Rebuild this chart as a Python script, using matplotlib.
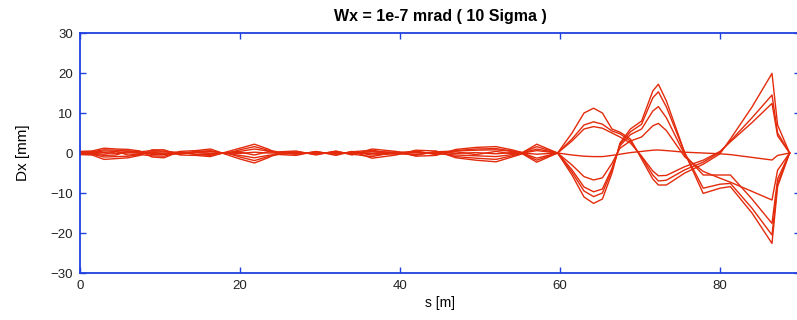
import matplotlib
matplotlib.use("Agg")
import matplotlib.pyplot as plt

# ---- data -------------------------------------------------------------
title = "Wx = 1e-7 mrad ( 10 Sigma )"
x_label = "s [m]"
y_label = "Dx [mm]"
x_ticks = [0, 20, 40, 60, 80]
y_ticks = [-30, -20, -10, 0, 10, 20, 30]

s_knots = [0, 1.5, 3, 4.5, 6, 7.5, 9, 10.5, 12.5, 14.5, 16.3, 18.2, 20, 21.8, 23.5,
           25, 27, 29.5, 32, 34, 36.5, 39.5, 42, 44.5, 47, 49.5, 52, 54, 55.3, 57.1,
           59.7, 61.5, 63, 64.2, 65.3, 66.5, 67.5, 68.8, 70.2, 71.6, 72.3, 73.3, 75.6,
           77.9, 80, 81.3, 84, 86.5, 87.2, 88.7]

dx_a1 = [0.4, 0.5, 1.2, 1.0, 0.9, 0.5, -1.0, -1.2, 0.4, 0.6, 1.0, -0.3, -1.5, -2.5, -1.2,
         0.3, 0.5, -0.5, 0.5, -0.5, 1.0, 0.4, -0.8, -0.6, 0.9, 1.4, 1.6, 0.8, 0.1, 2.2,
         0, 5.0, 10.0, 11.2, 10.0, 6.0, 5.2, 3.5, -1.5, -6.5, -8.0, -8.0, -5.0,
         -2.8, -0.2, 3.5, 11.5, 19.9, 7.0, 0]
dx_a2 = [0.3, 0.3, 0.8, 0.7, 0.5, 0.3, 0.6, 0.5, -0.3, 0.3, 0.6, -0.2, 0.8, 1.6, 0.7,
         0.2, -0.3, 0.3, -0.3, 0.3, 0.7, -0.3, 0.5, -0.4, 0.6, 1.0, 1.1, 0.5, 0.1, 1.6,
         0, 3.5, 7.0, 7.8, 7.2, 5.5, 4.8, 3.0, -1.0, -5.5, -7.0, -6.8, -4.2,
         -2.3, 0.2, 3.0, 8.8, 14.5, 5.0, 0]
dx_a3 = [0.2, 0.2, 0.5, 0.4, -0.5, -0.3, 0.3, 0.3, 0.2, -0.3, -0.4, 0.1, 0.4, 1.0, 0.5,
         0.1, 0.2, -0.2, 0.2, -0.2, 0.4, 0.2, 0.3, -0.2, -0.5, -0.7, -0.9, -0.4, 0.0, -1.3,
         0, 3.0, 6.0, 6.6, 6.2, 5.0, 4.0, 2.5, -0.8, -4.5, -5.7, -5.6, -3.4,
         -1.8, 0.4, 2.8, 7.6, 12.4, 4.3, 0]
dx_b1 = [-0.4, -0.5, -1.6, -1.4, -1.2, -0.6, 0.8, 0.8, -0.5, -0.6, -0.9, 0.2, 1.2, 2.2, 1.0,
         -0.4, -0.6, 0.4, -0.6, 0.4, -1.3, -0.5, 0.7, 0.5, -1.2, -1.8, -2.2, -1.0, -0.2, -2.3,
         0, -5.5, -11.0, -12.6, -11.5, -5.0, 2.5, 6.0, 8.0, 15.5, 17.2, 13.0, 0.0,
         -10.1, -8.8, -8.4, -15.0, -22.6, -8.4, 0]
dx_b2 = [-0.3, -0.3, -1.0, -0.9, -0.8, -0.4, -0.7, -0.8, 0.3, -0.4, -0.6, 0.1, -1.0, -1.9, -0.9,
         -0.3, 0.3, -0.3, 0.4, -0.3, -0.9, 0.3, -0.6, 0.4, -0.9, -1.3, -1.6, -0.7, -0.1, -1.8,
         0, -4.8, -9.5, -10.9, -10.0, -4.3, 2.2, 5.3, 7.2, 13.8, 15.3, 11.5, 0.0,
         -8.8, -7.8, -7.6, -13.8, -20.5, -7.6, 0]
dx_b3 = [-0.2, -0.2, -0.6, -0.5, 0.5, 0.2, -0.4, -0.4, -0.2, 0.4, 0.4, -0.1, -0.6, -1.2, -0.6,
         -0.2, -0.2, 0.2, -0.2, 0.2, -0.5, -0.2, -0.4, 0.3, 0.5, 0.7, 0.8, 0.4, 0.0, 1.0,
         0, -4.2, -8.5, -9.7, -9.0, -3.8, 1.8, 4.6, 6.0, 10.5, 11.6, 8.8, -0.5,
         -5.5, -5.5, -5.5, -11.5, -17.6, -6.5, 0]
dx_b4 = [0.1, -0.1, -0.3, 0.3, 0.2, -0.1, 0.2, -0.2, 0.1, 0.2, -0.2, 0.05, 0.2, -0.5, 0.3,
         0.05, -0.1, 0.1, -0.1, 0.1, 0.3, -0.1, 0.2, -0.2, 0.3, -0.4, 0.4, -0.2, 0.0, 0.6,
         0, -3.0, -5.9, -6.75, -6.2, -2.6, 1.2, 3.0, 4.0, 6.8, 7.4, 5.6, -1.0,
         -4.6, -6.3, -7.3, -9.6, -11.75, -4.3, 0]
dx_c = [-0.1, 0.1, 0.1, -0.1, 0.0, 0.1, -0.1, 0.0, 0.0, 0.1, 0.0, 0.0, -0.1, 0.2, 0.0,
        0.0, 0.0, 0.0, 0.0, 0.0, -0.1, 0.0, 0.0, 0.1, -0.1, 0.1, -0.2, 0.1, 0.0, -0.3,
        0, -0.5, -0.8, -0.9, -0.9, -0.6, -0.3, 0.1, 0.4, 0.7, 0.75, 0.6, 0.2,
        0.0, -0.2, -0.4, -1.1, -1.75, -0.6, 0]

trajectories = [dx_a1, dx_a2, dx_a3, dx_b1, dx_b2, dx_b3, dx_b4, dx_c]

# ---- style ------------------------------------------------------------
plt.rcParams['font.family'] = ['Liberation Sans', 'DejaVu Sans']
line_color = '#e32b0c'
axis_color = '#2040e0'

fig = plt.figure(figsize=(7.97, 3.20), dpi=100)
ax = fig.add_axes([80 / 797, 1 - 273 / 320, 720 / 797, 240 / 320])

for dx in trajectories:
    ax.plot(s_knots, dx, color=line_color, lw=1.0)

ax.set_xlim(0, 90)
ax.set_ylim(-30, 30)
ax.set_xticks(x_ticks)
ax.set_yticks(y_ticks)
ax.tick_params(direction='in', length=4, width=1, color=axis_color,
               top=True, right=True, labelsize=9.5, labelcolor='#222222', pad=5)
for sp in ax.spines.values():
    sp.set_color(axis_color)
    sp.set_linewidth(1.3)

ax.set_title(title, fontsize=11.5, fontweight='bold', pad=9)
ax.set_xlabel(x_label, fontsize=10, labelpad=3)
ax.set_ylabel(y_label, fontsize=11, labelpad=15)

fig.savefig('out.png', dpi=100)
